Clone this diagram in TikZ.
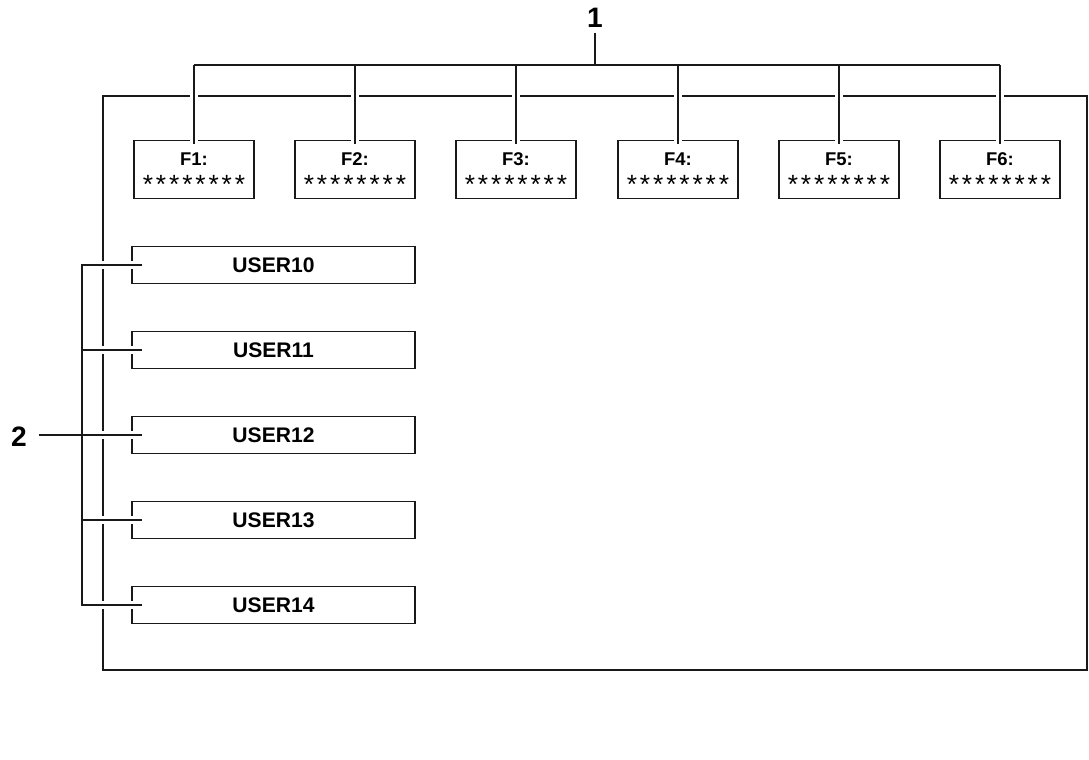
\documentclass[tikz,border=0pt]{standalone}
\usepackage{fontspec}
\setmainfont{Liberation Sans}
\newfontfamily\asteriscos[LetterSpace=11]{Liberation Sans}
\usetikzlibrary{positioning}

\begin{document}
\begin{tikzpicture}[x=0.02cm, y=-0.02cm,
        marco/.style={draw=black!90, line width=1pt},
        caja_f/.style={draw=black!90, line width=1pt, minimum width=2.4cm, minimum height=1.16cm, inner sep=0pt},
        texto_f/.style={anchor=base, inner sep=0pt, font=\fontsize{10.5}{12.5}\selectfont\bfseries},
        estrellas/.style={anchor=base, inner sep=0pt, font=\asteriscos\fontsize{15}{15}\selectfont},
        caja_user/.style={draw=black!90, line width=1pt, minimum width=5.66cm, minimum height=0.74cm, inner sep=0pt, font=\fontsize{12}{14}\selectfont\bfseries},
        etiqueta/.style={font=\fontsize{16}{18}\selectfont\bfseries, inner sep=3pt},
        halo/.style={draw=white, line width=5pt},
        guia/.style={draw=black!90, line width=1pt}
    ]
        \useasboundingbox (0,0) rectangle (1089,760);

        % Marco de la pantalla
        \draw[marco] (103,96) rectangle (1087,670);

        % Teclas de funcion en la parte superior
        \foreach \i/\x in {1/194, 2/355, 3/516, 4/678, 5/839, 6/1000}{
            \node[caja_f] (f\i) at (\x,169.5) {};
            \node[texto_f] (tf\i) at ([yshift=2pt]f\i.center) {F\i:};
            \node[estrellas] (ef\i) at ([yshift=-13.9pt]f\i.center) {********};
        }

        % Lista de usuarios a la izquierda
        \node[caja_user] (u10) at (273.5,265) {USER10};
        \node[caja_user] (u11) at (273.5,350) {USER11};
        \node[caja_user] (u12) at (273.5,435) {USER12};
        \node[caja_user] (u13) at (273.5,520) {USER13};
        \node[caja_user] (u14) at (273.5,605) {USER14};

        % Etiquetas de referencia
        \node[etiqueta] (n1) at (595,18) {1};
        \node[etiqueta] (n2) at (19,437) {2};
        \coordinate (bus1) at (595,65);
        \coordinate (llave) at (82,435);

        % Lineas guia: primero el halo blanco, luego la linea negra
        \foreach \estilo in {halo,guia}{
            \draw[\estilo] (n1.south) -- (bus1);
            \draw[\estilo] (f1.north |- bus1) -- (f6.north |- bus1);
            \foreach \i in {1,...,6}
                \draw[\estilo] (f\i.north |- bus1) -- ([yshift=-2.5pt]f\i.north);
            \draw[\estilo] ([xshift=6pt]u10.west) -- (u10.west -| llave) -- (u14.west -| llave) -- ([xshift=6pt]u14.west);
            \draw[\estilo] (u11.west -| llave) -- ([xshift=6pt]u11.west);
            \draw[\estilo] (u13.west -| llave) -- ([xshift=6pt]u13.west);
            \draw[\estilo] ([xshift=4pt]n2.east |- u12.west) -- ([xshift=6pt]u12.west);
        }
    \end{tikzpicture}
\end{document}
